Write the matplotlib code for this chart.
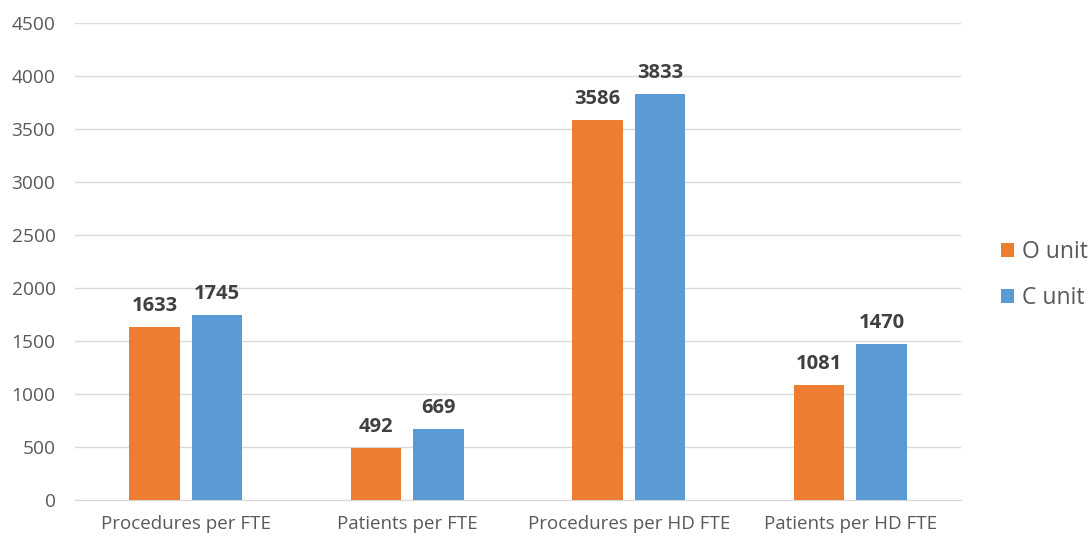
import matplotlib
matplotlib.use("Agg")
import matplotlib.pyplot as plt
import numpy as np

categories = ["Procedures per FTE", "Patients per FTE", "Procedures per HD FTE", "Patients per HD FTE"]
o_unit = [1633, 492, 3586, 1081]
c_unit = [1745, 669, 3833, 1470]
series_names = ["O unit", "C unit"]
colors = ["#ED7D31", "#5B9BD5"]

plt.rcParams['font.family'] = ['Open Sans', 'DejaVu Sans']

fig = plt.figure(figsize=(10.9, 5.36), dpi=100)
ax = fig.add_axes([75 / 1090, 1 - 500 / 536, (961 - 75) / 1090, (500 - 23) / 536])

x = np.arange(len(categories))
width = 0.228
offset = 0.141

bars_o = ax.bar(x - offset, o_unit, width, color=colors[0], label=series_names[0], zorder=3)
bars_c = ax.bar(x + offset, c_unit, width, color=colors[1], label=series_names[1], zorder=3)

for bars, vals in ((bars_o, o_unit), (bars_c, c_unit)):
    for b, v in zip(bars, vals):
        ax.annotate(f"{v}", (b.get_x() + b.get_width() / 2, v),
                    xytext=(0, 8), textcoords="offset points",
                    ha="center", va="bottom", fontsize=14.5,
                    fontweight="bold", color="#404040")

ax.set_xlim(-0.5, len(categories) - 0.5)
ax.set_ylim(0, 4500)
ax.set_yticks(np.arange(0, 4501, 500))
ax.set_xticks(x)
ax.set_xticklabels(categories)

ax.yaxis.grid(True, color="#D9D9D9", linewidth=1.0, zorder=0)
ax.set_axisbelow(True)
for s in ["top", "right", "left"]:
    ax.spines[s].set_visible(False)
ax.spines["bottom"].set_color("#D9D9D9")
ax.tick_params(axis="both", length=0, labelcolor="#595959")
ax.tick_params(axis="y", pad=14, labelsize=13.8)
ax.tick_params(axis="x", pad=11, labelsize=13.5)

leg = fig.legend(handles=[bars_o, bars_c], labels=series_names,
                 loc="center left", bbox_to_anchor=(1001 / 1090, 1 - 275 / 536),
                 frameon=False, fontsize=16.5, handlelength=0.55, handleheight=0.55,
                 handletextpad=0.35, labelspacing=0.95, borderaxespad=0, borderpad=0)
for t in leg.get_texts():
    t.set_color("#595959")

fig.savefig("out.png", dpi=100)
